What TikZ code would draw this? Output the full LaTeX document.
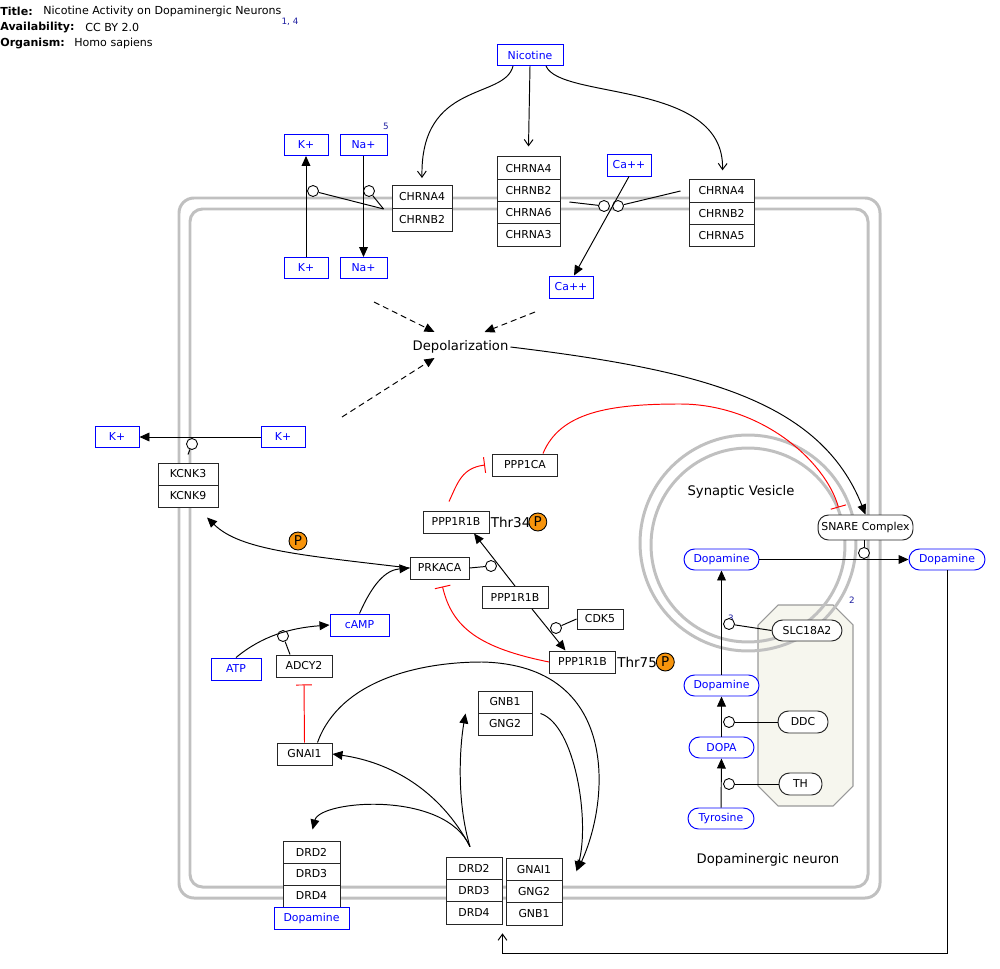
\documentclass[tikz,border=0pt]{standalone}
\usepackage{fontspec}
\setmainfont{DejaVu Sans}
\usepackage{xcolor}
\usepackage{tikz}
\usetikzlibrary{arrows.meta,calc}
\definecolor{memgray}{RGB}{192,192,192}
\definecolor{porange}{RGB}{247,148,12}
\definecolor{octfill}{RGB}{246,246,238}
\definecolor{citeblue}{RGB}{30,30,160}
\newcommand{\lblfont}{\fontsize{6.2}{7.2}\selectfont}
\newcommand{\depfont}{\fontsize{7.5}{9}\selectfont}
\newcommand{\thrfont}{\fontsize{7.7}{9}\selectfont}
\newcommand{\citefont}{\fontsize{5}{6}\selectfont}
\newcommand{\titlefont}{\fontsize{6.3}{7.5}\selectfont}

\begin{document}
\begin{tikzpicture}[x=0.02cm, y=-0.02cm,
	gene/.style={draw=black!85, fill=white, line width=0.55pt, font=\lblfont, inner sep=0pt, minimum height=0.44cm},
	met/.style={gene, draw=blue, text=blue},
	metr/.style={met, rounded corners=0.21cm},
	prot/.style={gene, rounded corners=0.21cm},
	cat/.style={circle, draw=black, fill=white, line width=0.5pt, inner sep=0pt, minimum size=0.22cm},
	conv/.style={line width=0.55pt, -{Triangle[length=5.7pt,width=5pt]}},
	bind/.style={line width=0.55pt},
	dep/.style={conv, dash pattern=on 3.4pt off 2.3pt},
	inh/.style={red, line width=0.55pt, -{Bar[width=9pt]}},
	nicarr/.style={line width=0.55pt, -{Straight Barb[length=3.5pt,width=5pt]}},
	memb/.style={draw=memgray, line width=1.7pt},
	phos/.style={circle, draw=black, fill=porange, line width=0.5pt, inner sep=0pt, minimum size=0.36cm, font=\thrfont},
	cite/.style={text=citeblue, font=\citefont, inner sep=0pt}]
	\useasboundingbox (0,0) rectangle (1000,969);

	% Header
	\foreach \k/\v/\x/\y in {Title:/Nicotine Activity on Dopaminergic Neurons/43/11, Availability:/CC BY 2.0/85/27, Organism:/Homo sapiens/74/43}{
		\node[anchor=west, inner sep=0pt, font=\titlefont] (key\y) at (0,\y) {\textbf{\k}};
		\node[anchor=west, inner sep=0pt, font=\titlefont] (val\y) at (\x,\y) {\v};
	}
	\node[cite] (cite14) at (290,22) {1, 4};

	% Cell membrane, octagon and vesicle
	\draw[memb, rounded corners=0.3cm] (179,198) rectangle (880,898);
	\draw[memb, rounded corners=0.25cm] (190,209) rectangle (868,887);
	\draw[fill=octfill, draw=black!40, line width=0.6pt] (778,605) -- (833,605) -- (853,625) -- (853,786) -- (833,806) -- (778,806) -- (758,786) -- (758,625) -- cycle;
	\draw[memb] (748,543) circle [radius=2.16cm];
	\draw[memb] (748,545) circle [radius=1.94cm];
	\node[font=\depfont, inner sep=0pt] (vesLbl) at (741,492) {Synaptic Vesicle};
	\node[font=\depfont, inner sep=0pt] (neuLbl) at (768,860) {Dopaminergic neuron};
	\node[cite] (cite2) at (852,600) {2};

	% Nicotine and receptors
	\node[met, minimum width=1.32cm, minimum height=0.42cm] (nic) at (530,55) {Nicotine};
	\foreach \g [count=\i] in {CHRNA4,CHRNB2}
		\node[gene, minimum width=1.2cm, minimum height=0.46cm] (chrL\i) at (422,{174+23*\i}) {\g};
	\foreach \g [count=\i] in {CHRNA4,CHRNB2,CHRNA6,CHRNA3}
		\node[gene, minimum width=1.26cm, minimum height=0.446cm] (chrM\i) at (528.5,{145.8+22.3*\i}) {\g};
	\foreach \g [count=\i] in {CHRNA4,CHRNB2,CHRNA5}
		\node[gene, minimum width=1.3cm, minimum height=0.446cm] (chrR\i) at (721.5,{168.7+22.3*\i}) {\g};

	\node[met, minimum width=0.88cm, minimum height=0.42cm] (kTop) at (306,145) {K+};
	\node[met, minimum width=0.94cm, minimum height=0.42cm] (naTop) at (363.5,145) {Na+};
	\node[met, minimum width=0.88cm, minimum height=0.42cm] (kBot) at (306,268) {K+};
	\node[met, minimum width=0.94cm, minimum height=0.42cm] (naBot) at (363.5,268) {Na+};
	\node[cite] (cite5) at (386,126) {5};
	\node[met, minimum width=0.88cm] (caTop) at (629,165) {Ca++};
	\node[met, minimum width=0.88cm] (caBot) at (571,287) {Ca++};

	\node[cat] (cK) at (313,191) {};
	\node[cat] (cNa) at (369,191) {};
	\node[cat] (cCa1) at (604,206) {};
	\node[cat] (cCa2) at (618,206) {};

	\draw[nicarr] ($(nic.south)+(-17,0)$) .. controls (505,100) and (420,80) .. ($(chrL1.north)+(0,-7)$);
	\draw[nicarr] (nic.south) -- ($(chrM1.north)+(0,-10)$);
	\draw[nicarr] ($(nic.south)+(16,0)$) .. controls (560,100) and (725,80) .. ($(chrR1.north)+(1,-9)$);

	\draw[conv] (kBot) -- (kTop);
	\draw[conv] (naTop) -- (naBot);
	\coordinate (chrLfoot) at ($(chrL1.south west)+(-8,0)$);
	\draw[bind] (cK) -- (chrLfoot);
	\draw[bind] (cNa) -- (chrLfoot);
	\draw[conv] (caTop.south) -- ($(caBot.north)+(3,0)$);
	\draw[bind] ($(chrM2.south east)+(9,0)$) -- (cCa1);
	\draw[bind] ($(chrR1.west)+(-8,0)$) -- (cCa2);

	% Depolarization
	\node[font=\depfont, inner sep=1pt] (dep) at (460.5,347) {Depolarization};
	\coordinate (dsA) at (374,302);
	\coordinate (dsB) at (535,312);
	\coordinate (dsC) at (342,417);
	\draw[dep] (dsA) -- ($(dep)+(-26,-15)$);
	\draw[dep] (dsB) -- ($(dep)+(24,-15)$);
	\draw[dep] (dsC) -- ($(dep)+(-26,11)$);

	% Potassium channel
	\node[met, minimum width=0.88cm, minimum height=0.42cm] (kL) at (117,437) {K+};
	\node[met, minimum width=0.88cm, minimum height=0.42cm] (kR) at (283,437) {K+};
	\foreach \g [count=\i] in {KCNK3,KCNK9}
		\node[gene, minimum width=1.2cm] (kcnk\i) at (188,{452+22*\i}) {\g};
	\node[cat] (cKo) at (192,444) {};
	\draw[conv] (kR) -- (kL);
	\draw[bind] (cKo) -- ($(kcnk1.north)+(0,-8)$);

	% PKA / DARPP-32
	\node[gene, minimum width=1.3cm] (ppp1ca) at (525,465) {PPP1CA};
	\node[gene, minimum width=1.32cm] (pThr34) at (456,522) {PPP1R1B};
	\node[gene, minimum width=1.18cm] (prk) at (439.5,568) {PRKACA};
	\node[gene, minimum width=1.32cm] (pMid) at (515,597.5) {PPP1R1B};
	\node[gene, minimum width=0.92cm, minimum height=0.4cm] (cdk5) at (600,619) {CDK5};
	\node[gene, minimum width=1.32cm] (pThr75) at (582.5,662) {PPP1R1B};
	\node[anchor=west, font=\thrfont, inner sep=0pt] (t34) at ($(pThr34.east)+(1,0)$) {Thr34};
	\node[phos] (p34) at ($(t34.east)+(7,0)$) {P};
	\node[anchor=west, font=\thrfont, inner sep=0pt] (t75) at ($(pThr75.east)+(1,0)$) {Thr75};
	\node[phos] (p75) at ($(t75.east)+(8,0)$) {P};
	\node[phos] (phosK) at (298,541) {P};

	\node[met, minimum width=1.18cm] (camp) at (359.5,625) {cAMP};
	\node[met, minimum width=1.0cm] (atp) at (236,669) {ATP};
	\node[gene, minimum width=1.12cm] (adcy) at (304,666) {ADCY2};
	\node[gene, minimum width=1.1cm] (gnai) at (304.5,754) {GNAI1};

	\node[cat] (cPrk) at (491,566) {};
	\node[cat] (cCdk) at (556,628) {};
	\node[cat] (cAdcy) at (283,636) {};

	\draw[conv] (prk.west) .. controls (300,555) and (240,550) .. ($(kcnk2.south)+(19,10)$);
	\draw[conv] (camp.north) .. controls (372,585) and (385,570) .. (prk.west);
	\draw[conv] (atp.north) .. controls (262,636) and (290,628) .. (camp.west);
	\draw[bind] (cAdcy) -- ($(adcy.north)+(-14,0)$);
	\draw[inh] (gnai.north) -- ($(adcy.south)+(0,7)$);
	\draw[conv] (pMid.north) -- ($(pThr34.south)+(18,0)$);
	\draw[bind] (cPrk) -- (prk.east);
	\draw[conv] ($(pMid.south)+(17,0)$) -- ($(pThr75.north)+(-17,0)$);
	\draw[bind] (cCdk) -- (cdk5.west);
	\draw[inh] (pThr75.west) .. controls (480,648) and (452,628) .. ($(prk.south)+(3,7)$);
	\draw[inh] ($(pThr34.north)+(-7,-9)$) .. controls (458,482) and (462,468) .. ($(ppp1ca.west)+(-7,0)$);

	% Vesicle release and synthesis
	\node[prot, minimum width=1.9cm, minimum height=0.5cm] (snare) at (865.5,527.5) {SNARE Complex};
	\node[metr, minimum width=1.5cm, minimum height=0.42cm] (dTop) at (721.5,559.5) {Dopamine};
	\node[metr, minimum width=1.52cm, minimum height=0.42cm] (dOut) at (947,559.5) {Dopamine};
	\node[prot, minimum width=1.4cm, minimum height=0.42cm] (slc) at (807,630.5) {SLC18A2};
	\node[metr, minimum width=1.5cm, minimum height=0.42cm] (dMid) at (721.5,685.5) {Dopamine};
	\node[prot, minimum width=1.0cm] (ddc) at (803,722) {DDC};
	\node[metr, minimum width=1.3cm, minimum height=0.42cm] (dopa) at (721.5,747.5) {DOPA};
	\node[prot, minimum width=0.86cm] (th) at (800.5,784) {TH};
	\node[metr, minimum width=1.32cm, minimum height=0.42cm] (tyr) at (721,818.5) {Tyrosine};
	\node[cite] (cite3) at (731,618) {3};

	\node[cat] (cSnare) at (864,553) {};
	\node[cat] (cSlc) at (729,624) {};
	\node[cat] (cDdc) at (729,722) {};
	\node[cat] (cTh) at (729,784) {};

	\draw[conv] (dep.east) .. controls (700,370) and (820,400) .. (snare.north);
	\draw[inh] ($(ppp1ca.north)+(18,0)$) .. controls (560,412) and (610,404) .. (680,404) .. controls (760,404) and (825,460) .. ($(snare.north)+(-27,-7)$);
	\draw[conv] (dTop) -- (dOut);
	\draw[bind] (cSnare) -- (cSnare |- snare.south);
	\draw[conv] (tyr) -- (dopa);
	\draw[conv] (dopa) -- (dMid);
	\draw[conv] (dMid) -- (dTop);
	\draw[bind] (cSlc) -- (slc.west);
	\draw[bind] (cDdc) -- (ddc);
	\draw[bind] (cTh) -- (th);

	% Dopamine receptors and G proteins
	\foreach \g [count=\i] in {DRD2,DRD3,DRD4}
		\node[gene, minimum width=1.14cm] (drdL\i) at (311.5,{830+22*\i}) {\g};
	\node[met, minimum width=1.5cm] (dBelow) at (311.5,918) {Dopamine};
	\foreach \g [count=\i] in {DRD2,DRD3,DRD4}
		\node[gene, minimum width=1.12cm, minimum height=0.446cm] (drdR\i) at (474,{846+22.3*\i}) {\g};
	\foreach \g [count=\i] in {GNAI1,GNG2,GNB1}
		\node[gene, minimum width=1.12cm, minimum height=0.446cm] (gR\i) at (534,{847+22.3*\i}) {\g};
	\foreach \g [count=\i] in {GNB1,GNG2}
		\node[gene, minimum width=1.08cm] (gbg\i) at (505,{680+22*\i}) {\g};

	\coordinate (sDRD) at ($(drdR1.north)+(-4,-10)$);
	\draw[conv] (sDRD) .. controls (445,790) and (320,800) .. ($(drdL1.north)+(1,-11)$);
	\draw[conv] (sDRD) .. controls (440,790) and (390,762) .. (gnai.east);
	\draw[conv] (sDRD) .. controls (456,800) and (460,745) .. ($(gbg1.south west)+(-12,0)$);
	\draw[conv] ($(gbg1.south east)+(8,0)$) .. controls (575,725) and (590,820) .. ($(gR1.east)+(14,2)$);
	\draw[conv] ($(gnai.north)+(13,0)$) .. controls (340,680) and (420,662) .. (482,662) .. controls (620,665) and (610,800) .. ($(gR1.east)+(15,1)$);

	\coordinate (loopc) at (947,953);
	\draw[nicarr, shorten >=5pt] (dOut.south) -- (loopc) -| (drdR3.south east);
\end{tikzpicture}
\end{document}
